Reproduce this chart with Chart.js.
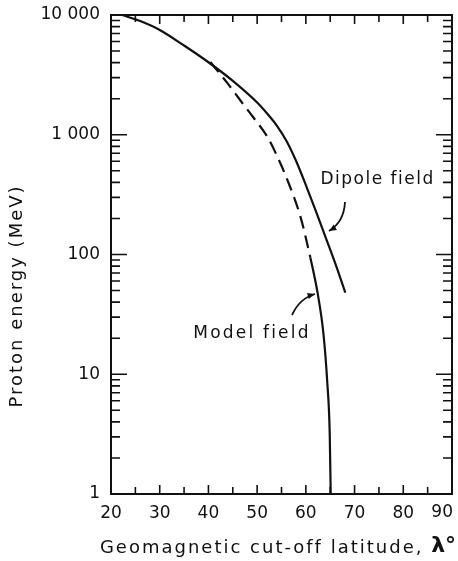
<!DOCTYPE html>
<html>
<head>
<meta charset="utf-8">
<script src="https://cdn.jsdelivr.net/npm/chart.js@4.4.0/dist/chart.umd.min.js"></script>
<style>
body { margin: 0; background: #fff; }
#wrap { width: 458px; height: 561px; }
</style>
</head>
<body>
<div id="wrap"><canvas id="myChart"></canvas></div>
<script>
// cut-off latitude (deg) vs proton energy (MeV)
const dipoleLat = [22.3, 26, 30, 35, 40, 45, 50, 52, 54, 56, 58, 60, 62, 64, 66, 68.1]
const dipoleE = [10000, 8900, 7500, 5560, 4030, 2820, 1860, 1514, 1200, 890, 603, 380, 234, 141, 85, 48]
const modelLat = [40.4, 43.9, 46.5, 49.2, 52.1, 54.2, 56.2, 58.9, 60.9, 62.4, 63.6, 64.4, 64.9, 65.1]
const modelE = [4050, 2700, 1950, 1400, 960, 650, 420, 206, 95, 48, 22, 8.5, 3.2, 1]
const yTicks = [1, 10, 100, 1000, 10000]
const yTickLabels = ['1', '10', '100', '1 000', '10 000']
const xMax = 90
const dashedAbove = 90   // model curve is dashed above this energy

const ink = '#111'
const font = '"DejaVu Sans", sans-serif'

const toPoints = (xs, ys) => xs.map((x, i) => ({ x: x, y: ys[i] }))

const frame = {
    id: 'frame',
    afterDraw(chart) {
        const ctx = chart.ctx
        const a = chart.chartArea
        const xs = chart.scales.x
        const ys = chart.scales.y
        ctx.save()
        ctx.strokeStyle = ink
        ctx.lineWidth = 2
        ctx.strokeRect(a.left, a.top, a.right - a.left, a.bottom - a.top)

        ctx.lineWidth = 1.6
        ctx.beginPath()
        for (let v = 25; v < 90; v += 5) {
            const px = xs.getPixelForValue(v)
            const len = v % 10 === 0 ? 9 : 7
            ctx.moveTo(px, a.bottom); ctx.lineTo(px, a.bottom - len)
            ctx.moveTo(px, a.top); ctx.lineTo(px, a.top + len)
        }
        for (let d = 1; d <= 1000; d *= 10) {
            for (let m = 1; m <= 9; m++) {
                const py = ys.getPixelForValue(d * m)
                const len = m === 1 ? 16 : 9
                ctx.moveTo(a.left, py); ctx.lineTo(a.left + len, py)
                ctx.moveTo(a.right, py); ctx.lineTo(a.right - len, py)
            }
        }
        ctx.stroke()

        ctx.fillStyle = ink
        ctx.textBaseline = 'middle'

        // last x label sits inside the right edge
        ctx.font = '17px ' + font
        ctx.textAlign = 'right'
        ctx.fillText(String(xMax), xs.getPixelForValue(xMax) + 1, xs.top + 9 + 10)

        // annotations
        const P = (x, y) => [xs.getPixelForValue(x), ys.getPixelForValue(y)]
        ctx.textAlign = 'left'
        ctx.letterSpacing = '1.5px'
        let p = P(63, 419)
        ctx.fillText('Dipole field', p[0], p[1])
        ctx.letterSpacing = '2.2px'
        p = P(36.9, 22)
        ctx.fillText('Model field', p[0], p[1])

        const arrow = (s, c, t) => {
            ctx.beginPath()
            ctx.moveTo(s[0], s[1])
            ctx.quadraticCurveTo(c[0], c[1], t[0], t[1])
            ctx.stroke()
            const ang = Math.atan2(t[1] - c[1], t[0] - c[0])
            ctx.beginPath()
            ctx.moveTo(t[0], t[1])
            ctx.lineTo(t[0] - 8 * Math.cos(ang - 0.4), t[1] - 8 * Math.sin(ang - 0.4))
            ctx.lineTo(t[0] - 8 * Math.cos(ang + 0.4), t[1] - 8 * Math.sin(ang + 0.4))
            ctx.closePath()
            ctx.fill()
        }
        ctx.lineWidth = 1.8
        arrow([345, 202], [344, 222], [329, 231])
        arrow([292, 315], [300, 298], [315, 294])

        // axis titles
        ctx.font = '18px ' + font
        ctx.letterSpacing = '2px'
        ctx.textAlign = 'center'
        ctx.save()
        ctx.translate(17, 296)
        ctx.rotate(-Math.PI / 2)
        ctx.fillText('Proton energy (MeV)', 0, 0)
        ctx.restore()

        const t1 = 'Geomagnetic cut-off latitude, '
        const t2 = 'λ°'
        const w1 = ctx.measureText(t1).width
        ctx.font = 'bold 22px ' + font
        ctx.letterSpacing = '0px'
        const w2 = ctx.measureText(t2).width
        let x0 = 278 - (w1 + w2) / 2
        ctx.textAlign = 'left'
        ctx.fillText(t2, x0 + w1, 546)
        ctx.font = '18px ' + font
        ctx.letterSpacing = '2px'
        ctx.fillText(t1, x0, 548)
        ctx.restore()
    }
}

let myChart = document.getElementById('myChart').getContext('2d')
let energyChart = new Chart(myChart, {
    type: 'line',
    data: {
        datasets: [{
            label: 'Dipole field',
            data: toPoints(dipoleLat, dipoleE),
            borderColor: ink,
            borderWidth: 2.2,
            pointRadius: 0,
            cubicInterpolationMode: 'monotone'
        }, {
            label: 'Model field',
            data: toPoints(modelLat, modelE),
            borderColor: ink,
            borderWidth: 2.2,
            pointRadius: 0,
            cubicInterpolationMode: 'monotone',
            segment: {
                borderDash: c => c.p1.parsed.y >= dashedAbove ? [13, 7] : []
            }
        }]
    },
    options: {
        responsive: true,
        maintainAspectRatio: false,
        animation: false,
        layout: { autoPadding: false, padding: { top: 15, right: 6, left: 0, bottom: 0 } },
        plugins: {
            legend: { display: false },
            tooltip: { enabled: false }
        },
        scales: {
            x: {
                type: 'linear',
                min: 20,
                max: xMax,
                grid: { display: false, drawTicks: false },
                border: { display: false },
                afterFit: s => {
                    s.height = 67
                    s.paddingLeft = 0
                    s.paddingRight = 0
                },
                ticks: {
                    stepSize: 10,
                    padding: 9,
                    color: ink,
                    font: { family: font, size: 17 },
                    callback: v => v === xMax ? '' : v
                }
            },
            y: {
                type: 'logarithmic',
                min: 1,
                max: 10000,
                grid: { display: false, drawTicks: false },
                border: { display: false },
                afterFit: s => {
                    s.width = 111
                    s.paddingTop = 0
                    s.paddingBottom = 0
                },
                afterBuildTicks: s => { s.ticks = yTicks.map(v => ({ value: v })) },
                ticks: {
                    padding: 11,
                    color: ink,
                    font: { family: font, size: 17 },
                    callback: (v, i) => yTickLabels[i]
                }
            }
        }
    },
    plugins: [frame]
})
</script>
</body>
</html>
